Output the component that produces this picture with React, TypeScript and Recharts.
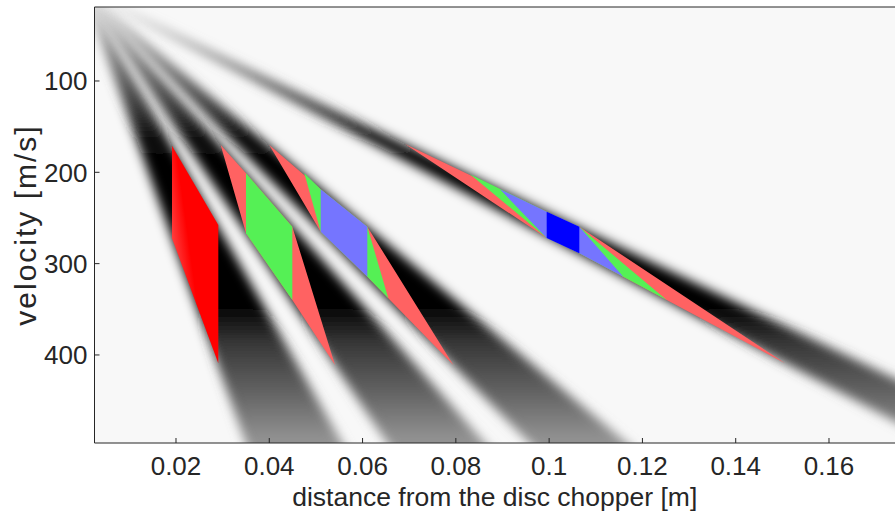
import React from 'react';
import { ComposedChart, Area, XAxis, YAxis, CartesianGrid } from 'recharts';

// ---- axes ----
const xTicks = [0.02, 0.04, 0.06, 0.08, 0.1, 0.12, 0.14, 0.16];
const yTicks = [100, 200, 300, 400];
const xDomain: [number, number] = [0.00253, 0.17415];
const yDomain: [number, number] = [19.0, 496.4];

// ---- neutron bands: wedges opening from the chopper (d = 0, v = 0) ----
const band1 = [{ d: 0, v: [0, 0] }, { d: 0.06, v: [535, 853] }];
const band2 = [{ d: 0, v: [0, 0] }, { d: 0.09, v: [518, 685] }];
const band3 = [{ d: 0, v: [0, 0] }, { d: 0.13, v: [553, 674] }];
const band4 = [{ d: 0, v: [0, 0] }, { d: 0.2, v: [489, 543] }];

// ---- transmitted windows (distance, [v top, v bottom]) ----
const pulse1Red = [{ d: 0.01914, v: [170.8, 272.2] }, { d: 0.02907, v: [257.7, 409.1] }];
const pulse2Red = [
  { d: 0.02958, v: [170.1, 170.1] },
  { d: 0.03501, v: [201.1, 266.8] },
  { d: 0.04494, v: [259.5, 339.8] },
  { d: 0.05409, v: [411.0, 411.0] },
];
const pulse2Green = [{ d: 0.03501, v: [201.1, 266.8] }, { d: 0.04494, v: [259.5, 339.8] }];
const pulse3Red = [
  { d: 0.04, v: [170.1, 170.1] },
  { d: 0.05102, v: [218.6, 265.0] },
  { d: 0.06102, v: [259.5, 314.3] },
  { d: 0.07946, v: [411.0, 411.0] },
];
const pulse3Green = [
  { d: 0.04751, v: [201.1, 201.1] },
  { d: 0.05102, v: [218.6, 265.0] },
  { d: 0.06102, v: [259.5, 314.3] },
  { d: 0.06552, v: [337.9, 337.9] },
];
const pulse3Blue = [{ d: 0.05102, v: [218.6, 265.0] }, { d: 0.06102, v: [259.5, 314.3] }];
const pulse4Red = [
  { d: 0.0691, v: [169.0, 169.0] },
  { d: 0.09948, v: [243.1, 272.0] },
  { d: 0.10647, v: [259.5, 288.7] },
  { d: 0.15058, v: [409.1, 409.1] },
];
const pulse4Green = [
  { d: 0.08304, v: [202.0, 202.0] },
  { d: 0.09948, v: [243.1, 272.0] },
  { d: 0.10647, v: [259.5, 288.7] },
  { d: 0.12521, v: [339.8, 339.8] },
];
const pulse4LightBlue = [
  { d: 0.08947, v: [218.6, 218.6] },
  { d: 0.09948, v: [243.1, 272.0] },
  { d: 0.10647, v: [259.5, 288.7] },
  { d: 0.1159, v: [314.3, 314.3] },
];
const pulse4Blue = [{ d: 0.09948, v: [243.1, 272.0] }, { d: 0.10647, v: [259.5, 288.7] }];

const axisColor = '#262626';
const fontFamily = '"Liberation Sans", Arial, Helvetica, sans-serif';
const tickFontSize = 26;
const titleFontSize = 26.5;

const bands = [band1, band2, band3, band4];
const shapes: { data: { d: number; v: number[] }[]; fill: string }[] = [
  { data: pulse1Red, fill: 'url(#redGrad)' },
  { data: pulse2Red, fill: '#ff6262' },
  { data: pulse2Green, fill: '#55f055' },
  { data: pulse3Red, fill: '#ff6262' },
  { data: pulse3Green, fill: '#55f055' },
  { data: pulse3Blue, fill: '#7575ff' },
  { data: pulse4Red, fill: '#ff6262' },
  { data: pulse4Green, fill: '#55f055' },
  { data: pulse4LightBlue, fill: '#7575ff' },
  { data: pulse4Blue, fill: '#0000ff' },
];

const YTitle = (props: any) => {
  const vb = props.viewBox || { x: 0, y: 7, width: 94.5, height: 436 };
  const cx = vb.x + 25;
  const cy = vb.y + vb.height / 2;
  return (
    <text
      x={cx}
      y={cy}
      transform={`rotate(-90 ${cx} ${cy})`}
      textAnchor="middle"
      dominantBaseline="central"
      fill={axisColor}
      fontSize={30}
      letterSpacing={2}
      fontFamily={fontFamily}
    >
      velocity [m/s]
    </text>
  );
};

export default function App() {
  return (
    <div style={{ position: 'absolute', left: 0, top: 0, width: 895, height: 512, background: '#ffffff' }}>
      <ComposedChart width={895} height={512} margin={{ top: 6, right: 0, bottom: 0, left: 0 }}>
        <defs>
          <linearGradient id="bandGrad" gradientUnits="userSpaceOnUse" x1="0" y1="0" x2="0" y2="450">
            <stop offset="0" stopColor="#c0c0c0" />
            <stop offset="0.13" stopColor="#7a7a7a" />
            <stop offset="0.24" stopColor="#3a3a3a" />
            <stop offset="0.31" stopColor="#0c0c0c" />
            <stop offset="0.38" stopColor="#000000" />
            <stop offset="0.68" stopColor="#000000" />
            <stop offset="0.76" stopColor="#363636" />
            <stop offset="0.88" stopColor="#666666" />
            <stop offset="0.98" stopColor="#939393" />
          </linearGradient>
          <linearGradient id="redGrad" x1="0.75" y1="0.35" x2="0.05" y2="0.8">
            <stop offset="0" stopColor="#ff0000" />
            <stop offset="0.45" stopColor="#ff0000" />
            <stop offset="1" stopColor="#ff6060" />
          </linearGradient>
          <filter id="soft" x="-20%" y="-20%" width="140%" height="140%">
            <feGaussianBlur stdDeviation="5.5" />
          </filter>
        </defs>
        <CartesianGrid horizontal={false} vertical={false} fill="#f8f8f8" />
        <XAxis
          xAxisId={0}
          type="number"
          dataKey="d"
          domain={xDomain}
          ticks={xTicks}
          allowDataOverflow
          interval={0}
          height={69}
          tickSize={-5}
          tickMargin={19}
          stroke={axisColor}
          tick={{ fill: axisColor, fontSize: tickFontSize, fontFamily }}
          label={{
            value: 'distance from the disc chopper [m]',
            position: 'insideBottom',
            offset: 6,
            fill: axisColor,
            fontSize: titleFontSize,
            fontFamily,
          }}
        />
        <XAxis
          xAxisId="top"
          orientation="top"
          type="number"
          dataKey="d"
          domain={xDomain}
          ticks={xTicks}
          allowDataOverflow
          interval={0}
          height={1}
          tickSize={-5}
          tick={false}
          stroke={axisColor}
        />
        <YAxis
          type="number"
          domain={yDomain}
          ticks={yTicks}
          reversed
          allowDataOverflow
          interval={0}
          width={94.5}
          tickSize={-5}
          tickMargin={12}
          stroke={axisColor}
          tick={{ fill: axisColor, fontSize: tickFontSize, fontFamily }}
          label={{ content: (p: any) => <YTitle {...p} /> }}
        />
        {bands.map((b, i) => (
          <Area
            key={'band' + i}
            data={b}
            dataKey="v"
            type="linear"
            stroke="none"
            fill="url(#bandGrad)"
            fillOpacity={1}
            filter="url(#soft)"
            dot={false}
            activeDot={false}
            legendType="none"
            isAnimationActive={false}
          />
        ))}
        {shapes.map((s, i) => (
          <Area
            key={'shape' + i}
            data={s.data}
            dataKey="v"
            type="linear"
            stroke="none"
            fill={s.fill}
            fillOpacity={1}
            dot={false}
            activeDot={false}
            legendType="none"
            isAnimationActive={false}
          />
        ))}
      </ComposedChart>
    </div>
  );
}
